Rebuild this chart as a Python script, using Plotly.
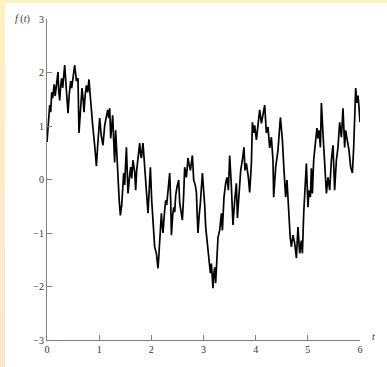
import plotly.graph_objects as go

# Sample times and values of f(t)
t_vals = [
    0, 0.023, 0.052, 0.071, 0.090, 0.109, 0.138, 0.157, 0.186, 0.211,
    0.224, 0.243, 0.263, 0.282, 0.301, 0.320, 0.339, 0.358, 0.378, 0.403,
    0.426, 0.454, 0.473, 0.502, 0.531, 0.564, 0.594, 0.613, 0.636, 0.671,
    0.694, 0.709, 0.732, 0.755, 0.780, 0.805, 0.828, 0.851, 0.876, 0.914,
    0.947, 0.972, 0.991, 1.010, 1.039, 1.073, 1.106, 1.135, 1.163, 1.183,
    1.202, 1.221, 1.240, 1.259, 1.278, 1.297, 1.316, 1.335, 1.354, 1.384,
    1.407, 1.432, 1.470, 1.489, 1.522, 1.553, 1.585, 1.604, 1.624, 1.648,
    1.681, 1.700, 1.719, 1.744, 1.777, 1.796, 1.809, 1.840, 1.873, 1.901,
    1.936, 1.959, 1.982, 2.007, 2.020, 2.045, 2.064, 2.097, 2.112, 2.128,
    2.141, 2.160, 2.193, 2.208, 2.223, 2.256, 2.275, 2.294, 2.319, 2.352,
    2.371, 2.385, 2.409, 2.429, 2.448, 2.467, 2.492, 2.524, 2.544, 2.572,
    2.595, 2.620, 2.639, 2.672, 2.703, 2.726, 2.749, 2.787, 2.812, 2.841,
    2.864, 2.879, 2.894, 2.917, 2.940, 2.979, 3.004, 3.023, 3.042, 3.067,
    3.086, 3.105, 3.132, 3.151, 3.167, 3.182, 3.195, 3.214, 3.233, 3.253,
    3.278, 3.310, 3.343, 3.362, 3.393, 3.425, 3.450, 3.477, 3.502, 3.535,
    3.550, 3.565, 3.598, 3.630, 3.650, 3.680, 3.713, 3.745, 3.776, 3.795,
    3.822, 3.860, 3.885, 3.918, 3.937, 3.962, 3.981, 4.014, 4.044, 4.077,
    4.110, 4.140, 4.173, 4.205, 4.236, 4.269, 4.301, 4.332, 4.345, 4.384,
    4.428, 4.474, 4.512, 4.543, 4.575, 4.600, 4.639, 4.662, 4.685, 4.715,
    4.748, 4.781, 4.811, 4.844, 4.876, 4.896, 4.921, 4.940, 4.972, 5.003,
    5.022, 5.049, 5.068, 5.087, 5.112, 5.151, 5.175, 5.195, 5.214, 5.241,
    5.260, 5.290, 5.323, 5.356, 5.386, 5.419, 5.451, 5.482, 5.514, 5.547,
    5.578, 5.610, 5.643, 5.674, 5.706, 5.725, 5.750, 5.789, 5.821, 5.854,
    5.879, 5.904, 5.917, 5.942, 5.962, 5.981, 6.0,
]
f_vals = [
    0.70, 0.96, 1.39, 1.26, 1.63, 1.52, 1.78, 1.56, 1.86, 2.01,
    1.67, 1.48, 1.76, 1.89, 1.71, 2.01, 2.14, 1.86, 1.58, 1.24,
    1.58, 1.84, 1.71, 1.95, 2.14, 1.84, 1.89, 0.87, 1.15, 1.71,
    1.48, 1.26, 1.58, 1.76, 1.63, 1.87, 1.58, 1.26, 1.01, 0.64,
    0.25, 0.64, 0.92, 1.15, 0.83, 0.64, 1.01, 1.20, 1.30, 1.15,
    1.33, 0.77, 1.11, 1.20, 0.74, 0.32, 0.92, 0.55, 0.08, -0.39,
    -0.67, -0.48, 0.12, -0.10, 0.60, -0.26, 0.08, 0.23, 0.02, 0.36,
    0.14, -0.20, 0.17, 0.36, 0.68, 0.45, 0.40, 0.68, 0.27, -0.10,
    -0.63, -0.20, 0.23, -0.39, -0.63, -1.04, -1.26, -1.38, -1.55, -1.66,
    -1.47, -1.19, -0.63, -0.85, -1.00, -0.57, -0.39, -0.48, -0.20, 0.12,
    -0.39, -1.04, -0.67, -0.52, -0.61, -0.29, -0.14, -0.01, -0.44, -0.61,
    -0.76, -0.29, 0.23, 0.04, 0.40, 0.27, 0.17, 0.45, -0.01, -0.10,
    -0.24, -0.67, -1.00, -0.67, -0.44, 0.12, -0.20, -0.48, -0.89, -1.14,
    -1.32, -1.51, -1.75, -1.57, -1.84, -2.03, -1.79, -1.64, -1.94, -1.60,
    -1.08, -0.95, -0.63, -0.95, -0.33, -0.07, 0.04, -0.20, 0.45, -0.14,
    -0.48, -0.85, -0.39, -0.07, -0.72, -0.26, 0.17, 0.36, 0.60, 0.17,
    0.30, 0.04, -0.24, 0.30, 1.07, 0.87, 1.01, 0.74, 0.98, 1.30,
    1.05, 1.26, 1.39, 0.87, 0.98, 0.59, 0.79, 0.36, -0.33, 0.23,
    0.55, 1.16, 0.74, 0.17, -0.33, -0.01, -0.70, -1.08, -1.26, -1.04,
    -1.19, -1.47, -0.89, -1.38, -1.14, -1.38, -0.63, -0.26, 0.30, -0.52,
    -0.20, -0.33, 0.21, -0.26, 0.36, 0.74, 0.96, 0.77, 0.92, 0.60,
    1.43, 0.87, 0.30, -0.26, 0.04, -0.20, 0.36, 0.64, -0.20, 0.36,
    0.60, 1.07, 0.79, 1.33, 0.60, 0.92, 0.77, 0.55, 0.23, 0.12,
    0.60, 1.30, 1.71, 1.43, 1.57, 1.35, 1.07,
]

x_ticks = [0, 1, 2, 3, 4, 5, 6]
y_ticks = [-3, -2, -1, 0, 1, 2, 3]

W, H = 387, 367
ML, MR, MT, MB = 47, 27, 19, 27

fig = go.Figure()
fig.add_trace(go.Scatter(
    x=t_vals, y=f_vals, mode="lines",
    line=dict(color="black", width=1.7),
    hoverinfo="skip", showlegend=False,
))

serif = "Liberation Serif, Times New Roman, serif"
axis_common = dict(
    showgrid=False, zeroline=False, showline=True,
    linecolor="#808080", linewidth=1,
    ticks="inside", ticklen=5, tickwidth=1, tickcolor="#808080",
    tickfont=dict(family=serif, size=10, color="#333333"),
    fixedrange=True,
)
fig.update_xaxes(range=[0, 6], tickvals=x_ticks, **axis_common)
fig.update_yaxes(range=[-3, 3], tickvals=y_ticks, **axis_common)

# paper-coordinate helpers for background pieces
pw = W - ML - MR
ph = H - MT - MB
def px_x(p):
    return (p - ML) / pw
def px_y(p):
    return 1 - (p - MT) / ph

shapes = []
# white sheet
shapes.append(dict(type="rect", xref="paper", yref="paper", layer="below",
                   x0=px_x(5), x1=px_x(W + 5), y0=px_y(H + 5), y1=px_y(3),
                   fillcolor="white", line=dict(width=0)))
# left gradient strip (yellow -> peach)
cols = ["#FDF1BE", "#FCEFC2", "#FBEDC6", "#FBEBCA", "#FAE9CE", "#FAE7D2"]
n = len(cols)
for i, c in enumerate(cols):
    shapes.append(dict(type="rect", xref="paper", yref="paper", layer="below",
                       x0=px_x(-5), x1=px_x(5),
                       y0=px_y(3 + (H - 3) * (i + 1) / n + 1), y1=px_y(3 + (H - 3) * i / n),
                       fillcolor=c, line=dict(width=0)))

annotations = [
    dict(text="<i>f</i> (<i>t</i>)", xref="paper", yref="paper",
         x=px_x(22), y=px_y(19), showarrow=False,
         font=dict(family=serif, size=10, color="#333333"),
         xanchor="center", yanchor="middle"),
    dict(text="<i>t</i>", xref="paper", yref="paper",
         x=px_x(373), y=px_y(336), showarrow=False,
         font=dict(family=serif, size=10, color="#333333"),
         xanchor="center", yanchor="middle"),
]

fig.update_layout(
    width=W, height=H,
    margin=dict(l=ML, r=MR, t=MT, b=MB, pad=0),
    paper_bgcolor="#FDF2BC",
    plot_bgcolor="white",
    shapes=shapes,
    annotations=annotations,
    showlegend=False,
)

fig.write_html("out.html", config={"displayModeBar": False},
               post_script="document.body.style.margin='0px';document.body.style.overflow='hidden';")
